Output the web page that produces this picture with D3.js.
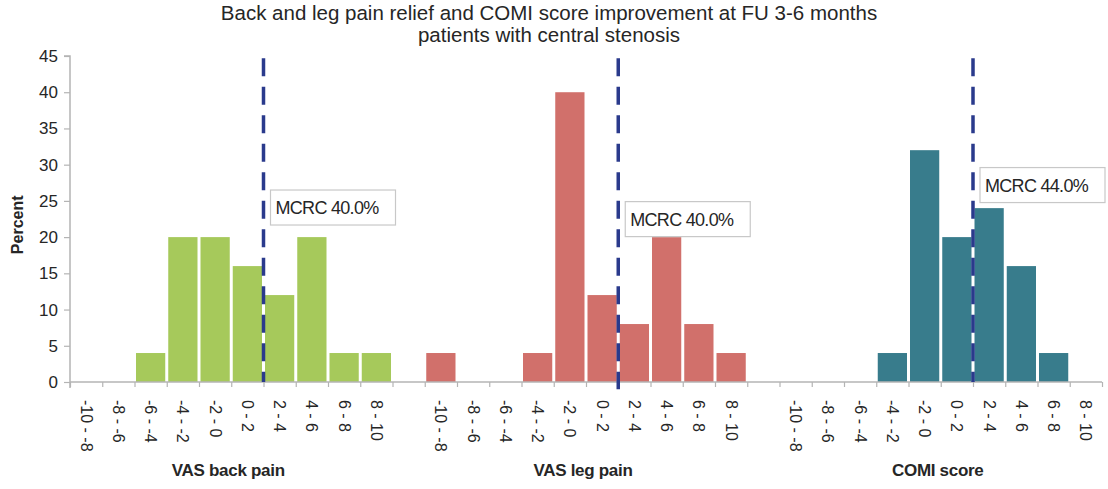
<!DOCTYPE html>
<html>
<head>
<meta charset="utf-8">
<script src="https://cdn.jsdelivr.net/npm/d3@7"></script>
<style>
  body { margin: 0; background: #fff; }
  svg { display: block; font-family: 'Liberation Sans', Arial, sans-serif; }
</style>
</head>
<body>
<div id="chart"></div>
<script>
// data
const binLabels = ['-10 - -8', '-8 - -6', '-6 - -4', '-4 - -2', '-2 - 0', '0 - 2', '2 - 4', '4 - 6', '6 - 8', '8 - 10'];
const groupNames = ['VAS back pain', 'VAS leg pain', 'COMI score'];
const backPain = [0, 0, 4, 20, 20, 16, 12, 20, 4, 4];
const legPain = [4, 0, 0, 4, 40, 12, 8, 20, 8, 4];
const comiScore = [0, 0, 0, 4, 32, 20, 24, 16, 4, 0];
const mcrcLabels = ['MCRC 40.0%', 'MCRC 40.0%', 'MCRC 44.0%'];
const mcrcBoundary = 6; // between "0 - 2" and "2 - 4"
const mcrcBoxValue = [26.5, 24.9, 29.6];
const yTicks = [0, 5, 10, 15, 20, 25, 30, 35, 40, 45];
const titleLines = [
  'Back and leg pain relief and COMI score improvement at FU 3-6 months',
  'patients with central stenosis',
];

const colors = {
  green: '#a6c95b',
  red: '#d1706b',
  teal: '#387c8c',
  dash: '#2a3a8c',
  axis: '#b4b4b4',
  text: '#262626',
};
const groupColors = [colors.green, colors.red, colors.teal];
const series = [backPain, legPain, comiScore];

const width = 1108;
const height = 489;
const margin = { left: 70, right: 6, top: 56, bottom: 107 };

const svg = d3.select('#chart')
  .append('svg')
  .attr('width', width)
  .attr('height', height);

// 10 bins per group, one empty slot between groups
const slotsPerGroup = binLabels.length + 1;
const slotCount = groupNames.length * slotsPerGroup - 1;
const slotIndex = (g, i) => g * slotsPerGroup + i;

const x = d3.scaleLinear()
  .domain([0, slotCount])
  .range([margin.left, width - margin.right]);
const step = x(1) - x(0);

const y = d3.scaleLinear()
  .domain([0, 45])
  .range([height - margin.bottom, margin.top]);

// title
svg.append('g')
  .selectAll('text')
  .data(titleLines)
  .join('text')
  .attr('x', 549)
  .attr('y', (d, i) => 20 + i * 22)
  .attr('text-anchor', 'middle')
  .attr('font-size', 20.5)
  .attr('fill', colors.text)
  .text((d) => d);

// bars
const bars = [];
series.forEach((values, g) => {
  values.forEach((v, i) => {
    if (v > 0) bars.push({ g, i, v });
  });
});
svg.append('g')
  .selectAll('rect')
  .data(bars)
  .join('rect')
  .attr('x', (d) => x(slotIndex(d.g, d.i)) + 1.5)
  .attr('width', step - 3)
  .attr('y', (d) => y(d.v))
  .attr('height', (d) => y(0) - y(d.v))
  .attr('fill', (d) => groupColors[d.g]);

// y axis
const yAxis = svg.append('g')
  .attr('transform', `translate(${margin.left},0)`)
  .call(d3.axisLeft(y).tickValues(yTicks).tickSize(6).tickPadding(6));
yAxis.select('.domain').attr('stroke', colors.axis).attr('stroke-width', 1.5)
  .attr('d', `M-6,${y(45)}H0V${y(0) + 6}`);
yAxis.selectAll('.tick line').attr('stroke', colors.axis).attr('stroke-width', 1.2);
yAxis.selectAll('.tick text')
  .attr('font-size', 17)
  .attr('font-family', "'Liberation Sans', Arial, sans-serif")
  .attr('fill', colors.text);

svg.append('text')
  .attr('transform', `translate(23,${y(21.7)}) rotate(-90)`)
  .attr('text-anchor', 'middle')
  .attr('font-size', 16)
  .attr('font-weight', 'bold')
  .attr('fill', colors.text)
  .text('Percent');

// x axis
const xAxis = svg.append('g')
  .attr('transform', `translate(0,${y(0)})`)
  .call(d3.axisBottom(x).tickValues(d3.range(slotCount + 1)).tickSize(5).tickFormat(''));
xAxis.select('.domain').attr('stroke', colors.axis).attr('stroke-width', 1.5)
  .attr('d', `M${x(0)},0H${x(slotCount)}`);
xAxis.selectAll('.tick line').attr('stroke', colors.axis).attr('stroke-width', 1.2);

// rotated bin labels
const labelData = [];
groupNames.forEach((name, g) => {
  binLabels.forEach((lab, i) => labelData.push({ g, i, lab }));
});
svg.append('g')
  .selectAll('text')
  .data(labelData)
  .join('text')
  .attr('transform', (d) => `translate(${x(slotIndex(d.g, d.i) + 0.5)},${y(0) + 18}) rotate(90)`)
  .attr('dominant-baseline', 'central')
  .attr('font-size', 16)
  .attr('fill', colors.text)
  .text((d) => d.lab);

// group names
svg.append('g')
  .selectAll('text')
  .data(groupNames)
  .join('text')
  .attr('x', (d, g) => x(slotIndex(g, 5)) - 3)
  .attr('y', 476)
  .attr('text-anchor', 'middle')
  .attr('font-size', 17)
  .attr('font-weight', 'bold')
  .attr('letter-spacing', -0.3)
  .attr('fill', colors.text)
  .text((d) => d);

// MCRC dashed lines
svg.append('g')
  .selectAll('line')
  .data(groupNames)
  .join('line')
  .attr('x1', (d, g) => x(slotIndex(g, mcrcBoundary)))
  .attr('x2', (d, g) => x(slotIndex(g, mcrcBoundary)))
  .attr('y1', y(44.7))
  .attr('y2', (d, g) => (g === 1 ? y(-1) : y(0)))
  .attr('stroke', colors.dash)
  .attr('stroke-width', 3.5)
  .attr('stroke-dasharray', '18,10.5');

// MCRC label boxes
const boxes = svg.append('g')
  .selectAll('g')
  .data(mcrcLabels)
  .join('g')
  .attr('transform', (d, g) => `translate(${x(slotIndex(g, mcrcBoundary)) + 7},${y(mcrcBoxValue[g])})`);
boxes.append('rect')
  .attr('width', 125)
  .attr('height', 35)
  .attr('fill', '#fff')
  .attr('stroke', '#c8c8c8')
  .attr('stroke-width', 1.2);
boxes.append('text')
  .attr('x', 5)
  .attr('y', 24)
  .attr('font-size', 18)
  .attr('fill', colors.text)
  .attr('letter-spacing', -0.7)
  .text((d) => d);
</script>
</body>
</html>
